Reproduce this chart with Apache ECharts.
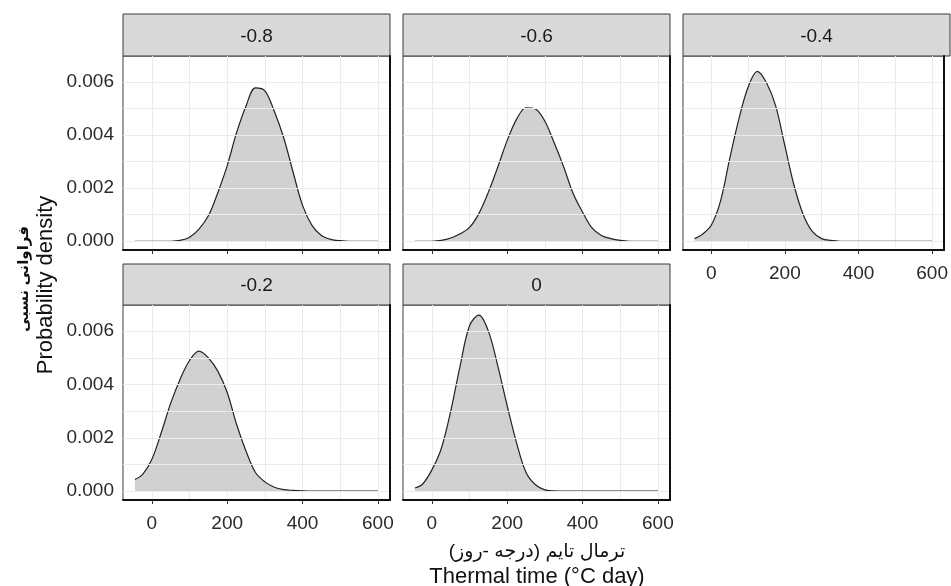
<!DOCTYPE html>
<html>
<head>
<meta charset="utf-8">
<script src="https://cdn.jsdelivr.net/npm/echarts@6/dist/echarts.min.js"></script>
<style>
html,body{margin:0;padding:0;background:#fff;}
#chart{width:951px;height:586px;}
</style>
</head>
<body>
<div id="chart"></div>
<script>
// ---- data ----
const thermalTime = [-45,-25,0,25,50,75,100,125,150,175,200,225,250,275,300,325,350,375,400,425,450,475,500,525,550,575,600];
const panelLabels = ['-0.8','-0.6','-0.4','-0.2','0'];
const densM08 = [0,0,0,0,0,0.00003,0.00015,0.00046,0.00096,0.00183,0.00285,0.0041,0.0051,0.00578,0.00567,0.0049,0.0039,0.0026,0.00135,0.0006,0.00022,0.00007,0.00002,0,0,0,0];
const densM06 = [0,0,0,0.00003,0.00012,0.00028,0.00052,0.00105,0.00185,0.0028,0.0038,0.0046,0.00503,0.00498,0.00452,0.0037,0.0028,0.0018,0.0011,0.0005,0.00022,0.0001,0.00003,0,0,0,0];
const densM04 = [0.0001,0.00025,0.0006,0.0015,0.0031,0.0046,0.0058,0.0064,0.00597,0.0051,0.0036,0.0021,0.001,0.00036,0.0001,0.00003,0,0,0,0,0,0,0,0,0,0,0];
const densM02 = [0.00044,0.00062,0.0012,0.0022,0.0033,0.0042,0.0049,0.00525,0.005,0.0045,0.0037,0.0025,0.0015,0.0007,0.00035,0.00015,0.00006,0.00003,0.00001,0,0,0,0,0,0,0,0];
const dens0 = [0.00012,0.00026,0.0008,0.0016,0.003,0.0047,0.0062,0.0066,0.006,0.0047,0.0032,0.0018,0.0007,0.00024,0.00005,0.00001,0,0,0,0,0,0,0,0,0,0,0];
const xTickLabels = [0,200,400,600];
const xGridValues = [0,100,200,300,400,500,600];
const yTickLabels = [0,0.002,0.004,0.006];
const yGridValues = [0,0.001,0.002,0.003,0.004,0.005,0.006];
const yTitleEn = 'Probability density';
const yTitleFa = 'فراوانی نسبی';
const xTitleEn = 'Thermal time (°C day)';
const xTitleFa = 'ترمال تایم (درجه -روز)';

// ---- layout ----
const X_MIN = -76.7, X_MAX = 632.2;
const Y_MIN = -0.00033, Y_MAX = 0.00698;
const FONT = "'Liberation Sans', Arial, 'DejaVu Sans', sans-serif";
const panelsData = [densM08, densM06, densM04, densM02, dens0];
const cols = [123, 403, 683];
const PW = 267;
const rows = [{stripTop:14, top:56, h:194}, {stripTop:264, top:305, h:195}];
const panels = [
  {col:0,row:0,yLab:true, xLab:false},
  {col:1,row:0,yLab:false,xLab:false},
  {col:2,row:0,yLab:false,xLab:true},
  {col:0,row:1,yLab:true, xLab:true},
  {col:1,row:1,yLab:false,xLab:true}
];

const grids=[], xAxes=[], yAxes=[], series=[], graphics=[];
panels.forEach((p,i)=>{
  const left = cols[p.col], r = rows[p.row];
  grids.push({left:left, top:r.top, width:PW, height:r.h, show:true, backgroundColor:'#fff', borderColor:'#3a3a3a', borderWidth:1, containLabel:false});
  xAxes.push({type:'value', gridIndex:i, min:X_MIN, max:X_MAX, position:'bottom', z:5,
    axisLine:{show:true, onZero:false, lineStyle:{color:'#111', width:2}},
    axisTick:{show:true, customValues:xTickLabels, length:4, lineStyle:{color:'#333', width:1}},
    axisLabel:{show:p.xLab, customValues:xTickLabels, margin:14, fontSize:19, color:'#2a2a2a', fontFamily:FONT},
    splitLine:{show:false}});
  xAxes.push({type:'value', gridIndex:i, min:X_MIN, max:X_MAX, position:'top',
    axisLine:{show:false}, axisTick:{show:false, customValues:xGridValues}, axisLabel:{show:false},
    splitLine:{show:true, lineStyle:{color:'#ebebeb', width:1}}});
  yAxes.push({type:'value', gridIndex:i, min:Y_MIN, max:Y_MAX, position:'left',
    axisLine:{show:false},
    axisTick:{show:p.yLab, customValues:yTickLabels, length:4, lineStyle:{color:'#333', width:1}},
    axisLabel:{show:p.yLab, customValues:yTickLabels, margin:9, fontSize:19, color:'#2a2a2a', fontFamily:FONT, padding:[6,0,0,0], formatter:v=>v.toFixed(3)},
    splitLine:{show:false}});
  yAxes.push({type:'value', gridIndex:i, min:Y_MIN, max:Y_MAX, position:'right', z:5,
    axisLine:{show:true, onZero:false, lineStyle:{color:'#111', width:2}},
    axisTick:{show:false, customValues:yGridValues}, axisLabel:{show:false},
    splitLine:{show:true, lineStyle:{color:'#ebebeb', width:1}}});
  series.push({type:'line', xAxisIndex:2*i, yAxisIndex:2*i, smooth:0.35, symbol:'none',
    data: thermalTime.map((x,k)=>[x, panelsData[i][k]]),
    lineStyle:{color:'#222', width:1.2},
    areaStyle:{color:'#c9c9c9', opacity:0.85},
    silent:true, animation:false});
  graphics.push({type:'rect', shape:{x:left, y:r.stripTop, width:PW, height:r.top-r.stripTop},
    style:{fill:'#d9d9d9', stroke:'#3a3a3a', lineWidth:1}});
  graphics.push({type:'text', x:left+PW/2, y:(r.stripTop+r.top)/2+1.5,
    style:{text:panelLabels[i], fill:'#1a1a1a', font:'19px '+FONT, align:'center', verticalAlign:'middle', textAlign:'center', textVerticalAlign:'middle'}});
});

graphics.push({type:'text', x:46, y:285, rotation:Math.PI/2,
  style:{text:yTitleEn, fill:'#111', font:'22px '+FONT, align:'center', verticalAlign:'middle', textAlign:'center', textVerticalAlign:'middle'}});
graphics.push({type:'text', x:24, y:279, rotation:Math.PI/2,
  style:{text:'\u200F'+yTitleFa+'\u200F', fill:'#111', font:'bold 15px '+FONT, align:'center', verticalAlign:'middle', textAlign:'center', textVerticalAlign:'middle'}});
graphics.push({type:'text', x:537, y:552,
  style:{text:'\u200F'+xTitleFa+'\u200F', fill:'#111', font:'19px '+FONT, align:'center', verticalAlign:'middle', textAlign:'center', textVerticalAlign:'middle'}});
graphics.push({type:'text', x:537, y:577,
  style:{text:xTitleEn, fill:'#111', font:'22px '+FONT, align:'center', verticalAlign:'middle', textAlign:'center', textVerticalAlign:'middle'}});

const chart = echarts.init(document.getElementById('chart'), null, {renderer:'canvas'});
chart.setOption({
  animation:false,
  backgroundColor:'#fff',
  grid:grids, xAxis:xAxes, yAxis:yAxes, series:series,
  graphic:{elements:graphics}
});
</script>
</body>
</html>
